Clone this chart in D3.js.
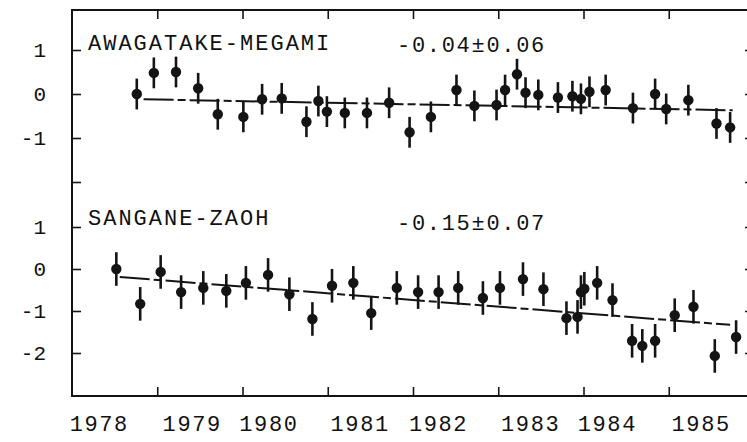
<!DOCTYPE html>
<html>
<head>
<meta charset="utf-8">
<script src="https://cdn.jsdelivr.net/npm/d3@7"></script>
<style>
  body { margin: 0; background: white; }
  #vis text { font-family: "Liberation Mono", "DejaVu Sans Mono", monospace; fill: #111; }
</style>
</head>
<body>
<div id="vis"></div>
<script>
// data (x in decimal years, y in residual units)
let years = [1978, 1979, 1980, 1981, 1982, 1983, 1984, 1985];
let yearLabelPos = [1978.32, 1979.41, 1980.31, 1981.38, 1982.30, 1983.38, 1984.28, 1985.38];

let topName = 'AWAGATAKE-MEGAMI';
let topRate = '-0.04\u00b10.06';
let topX = [1978.76, 1978.96, 1979.22, 1979.48, 1979.71, 1980.01, 1980.23, 1980.46, 1980.75, 1980.89,
  1980.99, 1981.20, 1981.46, 1981.72, 1981.96, 1982.21, 1982.51, 1982.72, 1982.98, 1983.08,
  1983.22, 1983.32, 1983.47, 1983.70, 1983.87, 1983.97, 1984.07, 1984.26, 1984.58, 1984.84,
  1984.97, 1985.23, 1985.56, 1985.72];
let topY = [0.0, 0.48, 0.5, 0.13, -0.46, -0.52, -0.12, -0.1, -0.63, -0.16,
  -0.4, -0.43, -0.43, -0.2, -0.87, -0.52, 0.09, -0.27, -0.25, 0.09,
  0.45, 0.03, -0.02, -0.08, -0.05, -0.11, 0.05, 0.09, -0.32, 0.0,
  -0.34, -0.14, -0.67, -0.76];
let topErr = 0.35;
let topFit = [[1978.84, -0.12], [1985.75, -0.37]];

let botName = 'SANGANE-ZAOH';
let botRate = '-0.15\u00b10.07';
let botX = [1978.52, 1978.80, 1979.04, 1979.28, 1979.54, 1979.81, 1980.04, 1980.30, 1980.55, 1980.82,
  1981.05, 1981.30, 1981.51, 1981.81, 1982.06, 1982.30, 1982.53, 1982.82, 1983.02, 1983.29,
  1983.53, 1983.80, 1983.93, 1983.97, 1984.01, 1984.16, 1984.34, 1984.57, 1984.69, 1984.84,
  1985.07, 1985.29, 1985.54, 1985.79];
let botY = [0.0, -0.83, -0.07, -0.55, -0.45, -0.52, -0.33, -0.14, -0.6, -1.19,
  -0.4, -0.33, -1.05, -0.45, -0.55, -0.55, -0.45, -0.69, -0.45, -0.24,
  -0.48, -1.17, -1.14, -0.55, -0.47, -0.33, -0.74, -1.71, -1.83, -1.71,
  -1.1, -0.9, -2.07, -1.62];
let botErr = 0.4;
let botFit = [[1978.56, -0.19], [1985.72, -1.33]];

let topTicks = [-2, -1, 0, 1];
let botTicks = [-2, -1, 0, 1];

let width = 747, height = 442;
let frame = { left: 72, top: 10, right: 754, bottom: 396 };
let ink = '#141414';

let svg = d3.select('#vis')
  .append('svg')
  .attr('width', width)
  .attr('height', height)
  .style('background-color', 'white');

// scales
let x = d3.scaleLinear().domain([1978, 1986]).range([frame.left, frame.right]);
let yTop = d3.scaleLinear().domain([-1, 1]).range([138, 50]);
let yBot = d3.scaleLinear().domain([-2, 1]).range([353, 227]);

// frame box (right side runs off the page like the scan)
svg.append('rect')
  .attr('x', frame.left)
  .attr('y', frame.top)
  .attr('width', frame.right - frame.left)
  .attr('height', frame.bottom - frame.top)
  .attr('fill', 'none')
  .attr('stroke', ink)
  .attr('stroke-width', 2);

// axes: ticks point inward
function styleAxis(g) {
  g.select('.domain').remove();
  g.selectAll('.tick line').attr('stroke', ink).attr('stroke-width', 1.6);
  g.selectAll('.tick text').attr('font-size', 21);
}

svg.append('g')
  .attr('transform', `translate(${frame.left},0)`)
  .call(d3.axisLeft(yTop).tickValues(topTicks).tickSize(-9).tickPadding(26)
    .tickFormat(d => d === -2 ? '' : String(d)))
  .call(styleAxis);

svg.append('g')
  .attr('transform', `translate(${frame.left},0)`)
  .call(d3.axisLeft(yBot).tickValues(botTicks).tickSize(-9).tickPadding(26)
    .tickFormat(d => String(d)))
  .call(styleAxis);

svg.append('g')
  .attr('transform', `translate(${frame.right},0)`)
  .call(d3.axisRight(yTop).tickValues(topTicks).tickSize(-9).tickFormat(''))
  .call(styleAxis);

svg.append('g')
  .attr('transform', `translate(${frame.right},0)`)
  .call(d3.axisRight(yBot).tickValues(botTicks).tickSize(-9).tickFormat(''))
  .call(styleAxis);

svg.append('g')
  .attr('transform', `translate(0,${frame.bottom})`)
  .call(d3.axisBottom(x).tickValues(years.slice(1)).tickSize(-9).tickFormat(''))
  .call(styleAxis);

svg.append('g')
  .attr('transform', `translate(0,${frame.top})`)
  .call(d3.axisTop(x).tickValues(years.slice(1)).tickSize(-9).tickFormat(''))
  .call(styleAxis);

// year labels, typed a little off the ticks in the original
svg.append('g')
  .selectAll('text')
  .data(years)
  .join('text')
  .attr('x', (d, i) => x(yearLabelPos[i]))
  .attr('y', 431)
  .attr('text-anchor', 'middle')
  .attr('font-size', 22)
  .attr('letter-spacing', 1.6)
  .text(d => d);

// one panel: fit line, error bars, dots, labels
function drawPanel(xs, ys, err, fit, y, name, rate, nameY, rateY) {
  let pts = xs.map((d, i) => ({ x: d, y: ys[i] }));
  let g = svg.append('g');

  g.append('path')
    .datum(fit)
    .attr('d', d3.line().x(d => x(d[0])).y(d => y(d[1])))
    .attr('fill', 'none')
    .attr('stroke', ink)
    .attr('stroke-width', 2)
    .attr('stroke-dasharray', '30,4,8,4');

  g.selectAll('line.err')
    .data(pts)
    .join('line')
    .attr('class', 'err')
    .attr('x1', d => x(d.x))
    .attr('x2', d => x(d.x))
    .attr('y1', d => y(d.y - err))
    .attr('y2', d => y(d.y + err))
    .attr('stroke', ink)
    .attr('stroke-width', 2.6);

  g.selectAll('circle')
    .data(pts)
    .join('circle')
    .attr('cx', d => x(d.x))
    .attr('cy', d => y(d.y))
    .attr('r', 5.2)
    .attr('fill', ink);

  g.append('text')
    .attr('x', 88)
    .attr('y', nameY)
    .attr('font-size', 22)
    .attr('letter-spacing', 2)
    .text(name);

  g.append('text')
    .attr('x', 397)
    .attr('y', rateY)
    .attr('font-size', 22)
    .attr('letter-spacing', 1.7)
    .text(rate);
}

drawPanel(topX, topY, topErr, topFit, yTop, topName, topRate, 50, 52);
drawPanel(botX, botY, botErr, botFit, yBot, botName, botRate, 225, 230);
</script>
</body>
</html>
